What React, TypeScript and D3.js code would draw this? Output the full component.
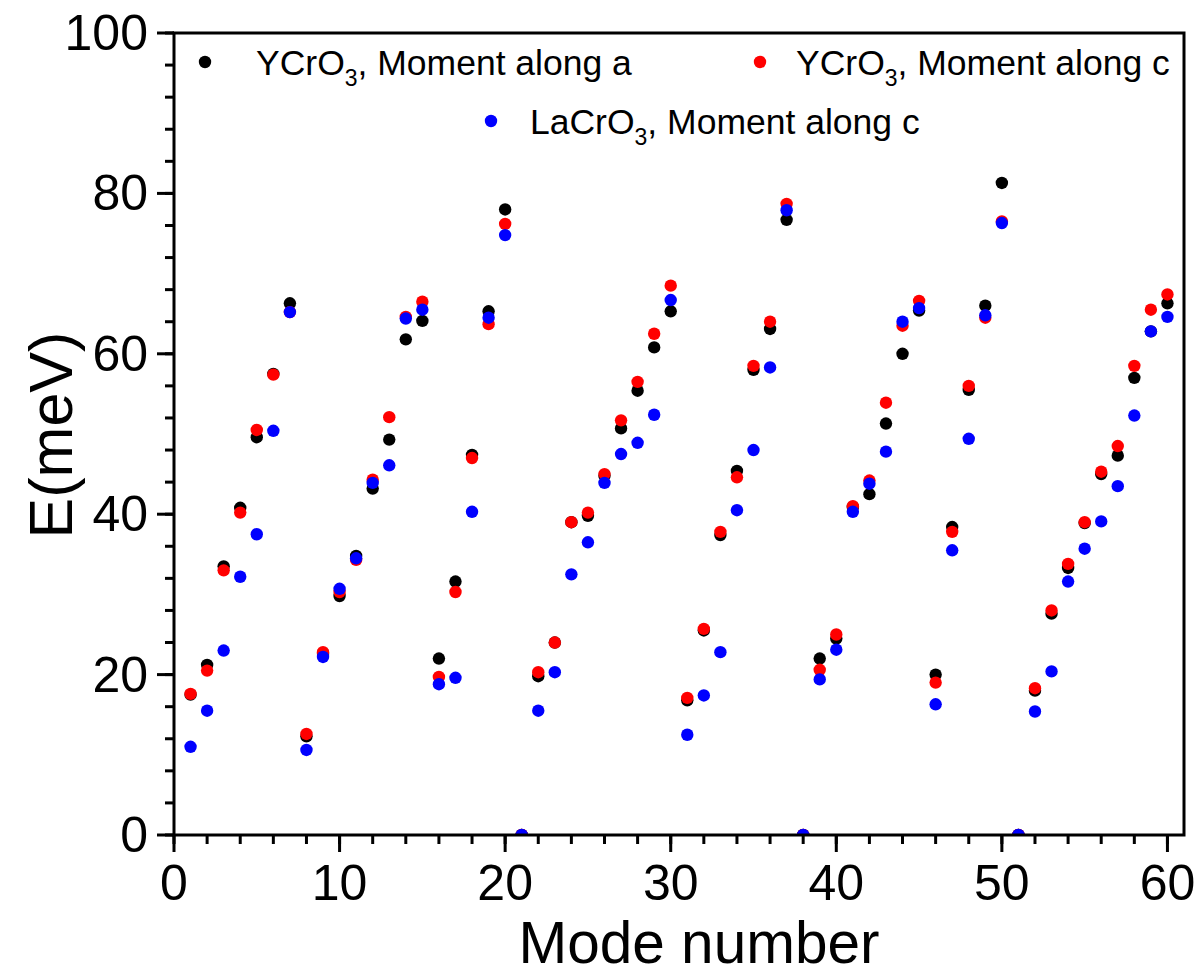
import React from "react";
import * as d3 from "d3";

// Mode energies (meV) for modes 1..60
const modes: number[] = d3.range(1, 61);

const ycroA: number[] = [
  17.5, 21.2, 33.5, 40.8, 49.6, 57.5, 66.3, 12.3, 22.6, 29.8,
  34.8, 43.2, 49.3, 61.8, 64.1, 22.0, 31.6, 47.4, 65.3, 78.0,
  0, 19.8, 24.0, 39.0, 39.8, 44.8, 50.7, 55.4, 60.8, 65.3,
  16.8, 25.5, 37.4, 45.4, 58.0, 63.1, 76.7, 0, 22.0, 24.5,
  40.9, 42.5, 51.3, 60.0, 65.4, 20.0, 38.4, 55.5, 66.0, 81.3,
  0, 18.0, 27.6, 33.3, 38.9, 45.0, 47.3, 57.0, 62.8, 66.3,
];

const ycroC: number[] = [
  17.6, 20.5, 33.0, 40.2, 50.5, 57.4, 65.2, 12.6, 22.8, 30.3,
  34.3, 44.3, 52.1, 64.6, 66.5, 19.7, 30.3, 47.0, 63.7, 76.2,
  0, 20.3, 24.0, 39.0, 40.2, 45.0, 51.7, 56.5, 62.5, 68.5,
  17.1, 25.7, 37.8, 44.6, 58.5, 64.0, 78.7, 0, 20.6, 25.0,
  41.0, 44.2, 53.9, 63.5, 66.6, 19.0, 37.8, 56.0, 64.5, 76.5,
  0, 18.3, 28.0, 33.8, 39.0, 45.3, 48.5, 58.5, 65.5, 67.4,
];

const lacroC: number[] = [
  11.0, 15.5, 23.0, 32.2, 37.5, 50.4, 65.2, 10.6, 22.2, 30.7,
  34.5, 43.9, 46.1, 64.4, 65.5, 18.8, 19.6, 40.3, 64.5, 74.8,
  0, 15.5, 20.3, 32.5, 36.5, 43.9, 47.5, 48.9, 52.4, 66.7,
  12.5, 17.4, 22.8, 40.5, 48.0, 58.3, 77.9, 0, 19.4, 23.1,
  40.3, 43.8, 47.8, 64.0, 65.7, 16.3, 35.5, 49.4, 64.8, 76.3,
  0, 15.4, 20.4, 31.6, 35.7, 39.1, 43.5, 52.3, 62.8, 64.6,
];

const xMajorTicks: number[] = [0, 10, 20, 30, 40, 50, 60];
const xMinorTicks: number[] = d3.range(0, 61, 2);
const yMajorTicks: number[] = [0, 20, 40, 60, 80, 100];
const yMinorTicks: number[] = d3.range(0, 101, 4);

const seriesNames: string[] = ["YCrO", "YCrO", "LaCrO"];
const seriesSuffix: string[] = [", Moment along a", ", Moment along c", ", Moment along c"];
const seriesColors: string[] = ["#000000", "#ff0000", "#0000ff"];

const W = 1204;
const H = 975;
const left = 174;
const right = 1184;
const top = 33;
const bottom = 835;
const FONT = "'Liberation Sans', Arial, Helvetica, sans-serif";

export default function App() {
  const x = d3.scaleLinear().domain([0, 61]).range([left, right]);
  const y = d3.scaleLinear().domain([0, 100]).range([bottom, top]);

  const series = [ycroA, ycroC, lacroC];

  const legendItems = [
    { dx: 205, dy: 62, tx: 256, ty: 75 },
    { dx: 760, dy: 62, tx: 796, ty: 75 },
    { dx: 491, dy: 121, tx: 530, ty: 134 },
  ];

  return (
    <svg
      width={W}
      height={H}
      viewBox={`0 0 ${W} ${H}`}
      style={{ position: "absolute", left: 0, top: 0, display: "block", background: "#fff" }}
      fontFamily={FONT}
    >
      <defs>
        <clipPath id="plotClip">
          <rect x={left} y={top} width={right - left} height={bottom - top} />
        </clipPath>
      </defs>
      <rect x={0} y={0} width={W} height={H} fill="#fff" />

      {/* data points */}
      <g clipPath="url(#plotClip)">
        {series.map((vals, si) => (
          <g key={si} fill={seriesColors[si]}>
            {vals.map((v, i) => (
              <circle key={i} cx={x(modes[i])} cy={y(v)} r={6.2} />
            ))}
          </g>
        ))}
      </g>

      {/* frame */}
      <rect
        x={left}
        y={top}
        width={right - left}
        height={bottom - top}
        fill="none"
        stroke="#000"
        strokeWidth={3}
      />

      {/* ticks */}
      <g stroke="#000" strokeWidth={3}>
        {xMinorTicks.map((t) => (
          <line key={"xm" + t} x1={x(t)} x2={x(t)} y1={bottom} y2={bottom + 9} />
        ))}
        {xMajorTicks.map((t) => (
          <line key={"xM" + t} x1={x(t)} x2={x(t)} y1={bottom} y2={bottom + 17} />
        ))}
        {yMinorTicks.map((t) => (
          <line key={"ym" + t} x1={left} x2={left - 9} y1={y(t)} y2={y(t)} />
        ))}
        {yMajorTicks.map((t) => (
          <line key={"yM" + t} x1={left} x2={left - 17} y1={y(t)} y2={y(t)} />
        ))}
      </g>

      {/* tick labels */}
      <g fontSize={50} fill="#000">
        {xMajorTicks.map((t) => (
          <text key={"xl" + t} x={x(t)} y={900} textAnchor="middle">
            {t}
          </text>
        ))}
        {yMajorTicks.map((t) => (
          <text key={"yl" + t} x={148} y={y(t) + 17} textAnchor="end">
            {t}
          </text>
        ))}
      </g>

      {/* axis titles */}
      <text x={(left + right) / 2 + 20} y={963} fontSize={58.5} textAnchor="middle" fill="#000">
        Mode number
      </text>
      <text
        transform={`translate(72, 435) rotate(-90)`}
        fontSize={61}
        textAnchor="middle"
        fill="#000"
      >
        E(meV)
      </text>

      {/* legend */}
      <g fontSize={35.5} fill="#000">
        {legendItems.map((it, i) => (
          <g key={"lg" + i}>
            <circle cx={it.dx} cy={it.dy} r={6.2} fill={seriesColors[i]} />
            <text x={it.tx} y={it.ty}>
              {seriesNames[i]}
              <tspan fontSize={23} dy={11}>3</tspan>
              <tspan dy={-11}>{seriesSuffix[i]}</tspan>
            </text>
          </g>
        ))}
      </g>
    </svg>
  );
}
